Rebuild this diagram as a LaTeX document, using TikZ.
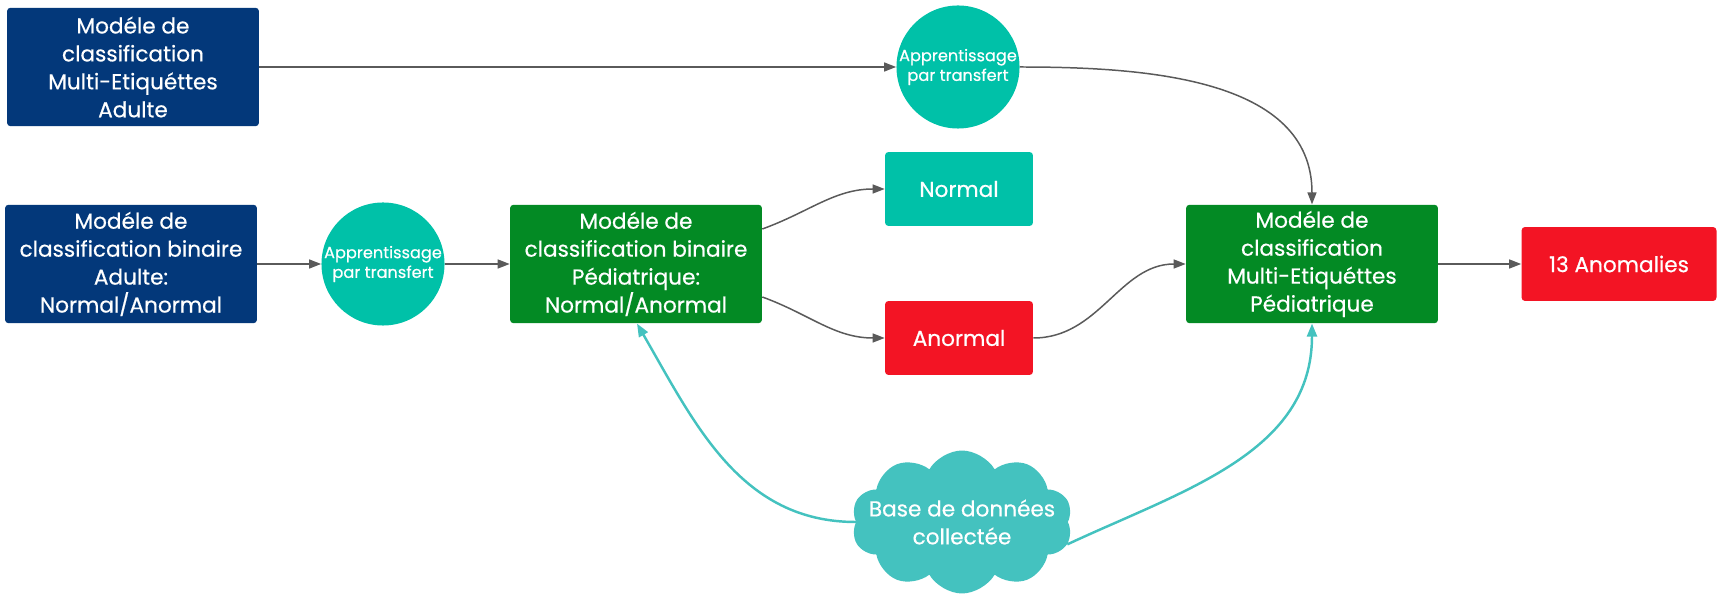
\documentclass[tikz,border=0pt]{standalone}
\usepackage{fontspec}
\setmainfont{Poppins}[FakeBold=0.5]
\usetikzlibrary{shapes.symbols,arrows.meta}

\definecolor{adultblue}{HTML}{03387A}
\definecolor{childgreen}{HTML}{038A24}
\definecolor{transferteal}{HTML}{00C1A8}
\definecolor{alarmred}{HTML}{F31424}
\definecolor{cloudteal}{HTML}{44C2BF}
\definecolor{linegray}{HTML}{5A5A5A}

\begin{document}
\begin{tikzpicture}[x=0.02cm,y=-0.02cm,
  box/.style={rectangle, rounded corners=2pt, text=white, align=center,
    minimum width=5.04cm, minimum height=2.37cm, inner sep=1pt,
    font=\fontsize{12.3}{15.9}\selectfont},
  adult/.style={box, fill=adultblue},
  child/.style={box, fill=childgreen},
  result/.style={box, minimum width=2.96cm, minimum height=1.48cm},
  transfer/.style={circle, fill=transferteal, text=white, align=center,
    minimum size=2.45cm, inner sep=0pt, font=\fontsize{9.2}{11.2}\selectfont},
  flow/.style={draw=linegray, line width=0.85pt, -{Triangle[length=2.4mm,width=1.8mm]}},
  data/.style={draw=cloudteal, line width=1.4pt, -{Triangle[length=2.6mm,width=2mm]}}
]
\useasboundingbox (0,0) rectangle (1721,597);

% modeles adulte
\node[adult] (adultmulti) at (133,67) {Modéle de\\classification\\Multi-Etiquéttes\\Adulte};
\node[adult] (adultbin) at (131,264) {Modéle de\\classification binaire\\Adulte:\\Normal/Anormal};

% apprentissage par transfert
\node[transfer] (transfertop) at (958,67) {Apprentissage\\par transfert};
\node[transfer] (transferleft) at (383,264) {Apprentissage\\par transfert};

% modeles pediatriques
\node[child] (childbin) at (636,264) {Modéle de\\classification binaire\\Pédiatrique:\\Normal/Anormal};
\node[child] (childmulti) at (1312,264) {Modéle de\\classification\\Multi-Etiquéttes\\Pédiatrique};

% sorties
\node[result, fill=transferteal] (normal) at (959,189) {Normal};
\node[result, fill=alarmred] (anormal) at (959,338) {Anormal};
\node[result, fill=alarmred, minimum width=3.9cm] (anomalies) at (1619,264) {13 Anomalies};

% base de donnees
\node[cloud, cloud puffs=10, cloud puff arc=120, aspect=1.5, fill=cloudteal,
  inner sep=0pt, minimum width=4.42cm, minimum height=2.86cm] (database) at (962,522) {};
\node[text=white, align=center, font=\fontsize{12.3}{15.9}\selectfont]
  (databaselabel) at (database.center) {Base de données\\collectée};

\foreach \a/\b in {adultmulti/transfertop, adultbin/transferleft,
                   transferleft/childbin, childmulti/anomalies}
  \draw[flow] (\a) -- (\b);

\draw[flow] (transfertop.east) to[out=0,in=90] (childmulti.north);
\draw[flow] ([yshift=0.7cm]childbin.east) to[out=20,in=180] (normal.west);
\draw[flow] ([yshift=-0.66cm]childbin.east) to[out=-20,in=180] (anormal.west);
\draw[flow] (anormal.east) to[out=0,in=180] (childmulti.west);

\draw[data] (database.west) to[out=180,in=-60] ([xshift=0.02cm]childbin.south);
\draw[data] (database.-12) to[out=25,in=-90] (childmulti.south);
\end{tikzpicture}
\end{document}
